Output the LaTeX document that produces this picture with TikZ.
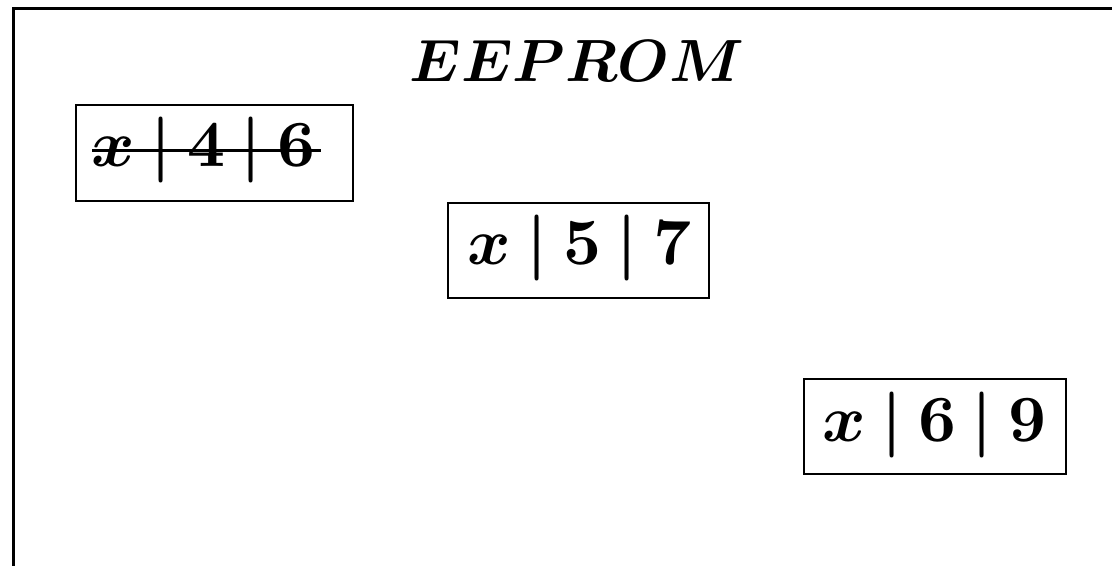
\documentclass[tikz,border=0pt]{standalone}
\usepackage{graphicx}
\usepackage{amsmath}
\usepackage{bm}
\newcommand{\bigmath}[2]{\scalebox{#1}{$#2$}}
\newcommand{\bbar}{\mathrel{\mkern-0.75mu\bm{|}\mkern-0.75mu}}
\begin{document}
\begin{tikzpicture}[x=0.5pt,y=-0.5pt,
  frameline/.style={line width=1.6pt},
  cell/.style={draw,line width=1.3pt},
  txt/.style={inner sep=0pt, anchor=base west},
  strike/.style={line width=1.5pt}]
\useasboundingbox (0,0) rectangle (1112,566);
\coordinate (tl) at (13.5,8.5);
\coordinate (tr) at (1112,8.5);
\coordinate (bl) at (13.5,566);
\draw[frameline] (tr) -- (tl) -- (bl);
\node[inner sep=0pt, anchor=base] (title) at (577,82) {\bigmath{2.98}{\bm{EEPROM}}};
\node[cell, minimum width=138.5pt, minimum height=48pt, inner sep=0pt] (b1) at (214.5,153) {};
\node[cell, minimum width=130.5pt, minimum height=47.5pt, inner sep=0pt] (b2) at (578.5,250.5) {};
\node[cell, minimum width=131pt, minimum height=47.5pt, inner sep=0pt] (b3) at (935,426.5) {};
\node[txt] (t1) at (91,167) {\bigmath{3.3}{\bm{x} \bbar \mathbf{4} \bbar \mathbf{6}}};
\node[txt] (t2) at (467,265) {\bigmath{3.3}{\bm{x} \bbar \mathbf{5} \bbar \mathbf{7}}};
\node[txt] (t3) at (822,441.5) {\bigmath{3.3}{\bm{x} \bbar \mathbf{6} \bbar \mathbf{9}}};
\coordinate (s1) at (92,151);
\coordinate (s2) at (321,151);
\draw[strike] (s1) -- (s2);
\end{tikzpicture}
\end{document}
